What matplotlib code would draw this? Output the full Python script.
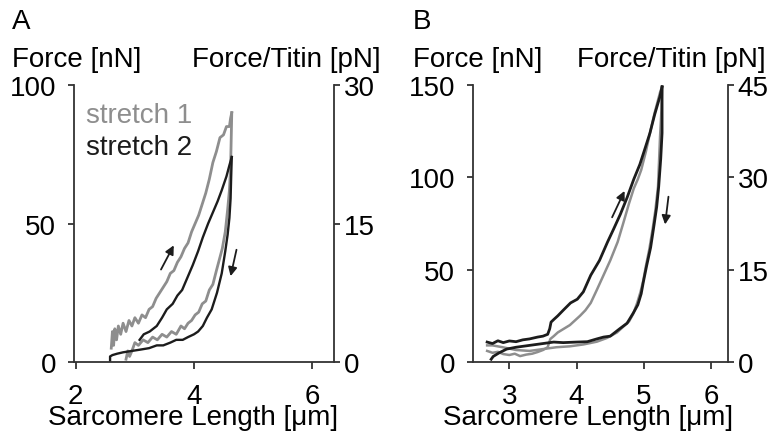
"""
Force vs sarcomere length for two consecutive stretches (panels A and B).
"""

import matplotlib.pyplot as plt

# ============================== data =========================================

GRAY = "#8e8e8e"
BLACK = "#1c1c1c"

# panel A, stretch 1 (gray) - loading / unloading
a1_load_x = [2.60, 2.62, 2.64, 2.66, 2.69, 2.72, 2.76, 2.80, 2.85, 2.90, 2.95, 3.00,
             3.06, 3.12, 3.18, 3.24, 3.30, 3.36, 3.42, 3.48, 3.54, 3.60, 3.66, 3.72,
             3.78, 3.84, 3.90, 3.96, 4.02, 4.08, 4.14, 4.20, 4.26, 4.32, 4.38, 4.44,
             4.50, 4.55, 4.60, 4.62, 4.64]
a1_load_y = [5, 11, 6, 12, 8, 13, 10, 14, 11, 15, 13, 16,
             14, 17, 16, 19, 20, 23, 25, 27, 29, 32, 33, 36,
             38, 41, 43, 47, 50, 53, 57, 61, 66, 72, 76, 81,
             82, 85, 85, 88, 90]
a1_unload_x = [4.64, 4.63, 4.62, 4.60, 4.57, 4.53, 4.48, 4.43, 4.38, 4.32, 4.26, 4.20,
               4.14, 4.08, 4.02, 3.96, 3.90, 3.84, 3.78, 3.70, 3.62, 3.54, 3.46, 3.38,
               3.30, 3.22, 3.14, 3.06, 3.00, 2.95, 2.91, 2.88, 2.85]
a1_unload_y = [90, 80, 70, 62, 55, 47, 41, 37, 33, 28, 26, 22,
               21, 18, 17, 15, 14, 12, 13, 10, 11, 9, 10, 8,
               9, 7, 8, 6, 7, 4, 2, 4, 1]

# panel A, stretch 2 (black)
a2_load_x = [3.08, 3.15, 3.25, 3.37, 3.46, 3.54, 3.64, 3.72, 3.80, 3.90, 3.98,
             4.07, 4.15, 4.24, 4.32, 4.40, 4.47, 4.55, 4.60, 4.64]
a2_load_y = [8, 10, 11, 13, 16, 19, 21, 24, 26, 31, 35,
             40, 45, 50, 54, 58, 62, 67, 71, 74]
a2_unload_x = [4.64, 4.63, 4.62, 4.60, 4.57, 4.53, 4.47, 4.39, 4.30, 4.22, 4.15,
               4.07, 4.00, 3.90, 3.81, 3.70, 3.60, 3.48, 3.37, 3.24, 3.10, 2.95,
               2.80, 2.70, 2.62, 2.58, 2.58]
a2_unload_y = [74, 67, 59, 52, 46, 40, 32, 25, 19, 16, 13,
               11, 10, 9, 8, 8, 7, 6, 6, 5, 4.5, 4,
               3.5, 3, 2.5, 2, 0.5]

# panel B, stretch 1 (gray)
b1_load_x = [2.67, 2.75, 2.83, 2.91, 3.00, 3.08, 3.16, 3.25, 3.34, 3.42, 3.50,
             3.57, 3.61, 3.66, 3.72, 3.81, 3.90, 3.96, 4.05, 4.13, 4.21, 4.30,
             4.40, 4.50, 4.61, 4.70, 4.78, 4.85, 4.91, 4.96, 5.03, 5.09, 5.16,
             5.24, 5.27]
b1_load_y = [6, 5, 5.5, 4.3, 3.8, 4.5, 3.2, 4, 4.5, 5.4, 6.5,
             8, 12.5, 14, 16, 18, 20, 22, 25, 28, 32, 39,
             47, 55, 65, 76, 86, 94, 99, 104, 114, 124, 135,
             146, 149]
b1_unload_x = [5.27, 5.26, 5.24, 5.21, 5.17, 5.13, 5.08, 5.03, 4.99, 4.95, 4.90,
               4.84, 4.78, 4.72, 4.60, 4.45, 4.30, 4.10, 3.90, 3.70, 3.50, 3.30,
               3.10, 2.90, 2.75, 2.67]
b1_unload_y = [149, 136, 122, 95, 82, 72, 61, 52, 44, 38, 32,
               26, 22, 20, 16, 13, 11, 9.5, 8.5, 8, 7, 6,
               6.5, 8, 9, 9]

# panel B, stretch 2 (black)
b2_load_x = [2.67, 2.75, 2.83, 2.91, 3.00, 3.10, 3.20, 3.30, 3.42, 3.50, 3.57,
             3.60, 3.62, 3.66, 3.72, 3.80, 3.91, 4.01, 4.10, 4.21, 4.34, 4.46,
             4.55, 4.65, 4.75, 4.85, 4.94, 5.02, 5.09, 5.16, 5.24, 5.27]
b2_load_y = [10.8, 10, 11.5, 10.5, 11.4, 11, 12, 12.5, 13.5, 14, 15,
             18, 21.6, 23, 25, 28, 32, 34, 38, 47, 55, 65,
             72, 80, 89, 99, 107, 116, 124, 134, 144, 149]
b2_unload_x = [5.27, 5.27, 5.25, 5.22, 5.19, 5.15, 5.10, 5.04, 4.99, 4.96, 4.91,
               4.85, 4.75, 4.64, 4.50, 4.40, 4.30, 4.16, 4.00, 3.80, 3.66, 3.50,
               3.30, 3.10, 2.96, 2.85, 2.76, 2.73]
b2_unload_y = [149, 124, 110, 95, 84, 74, 62, 52, 43, 37, 31,
               27, 21, 18, 14, 13.5, 12.5, 11, 10.8, 10.5, 10.8, 10,
               9, 8, 7, 5, 3, 1.5]

# ============================== main =========================================

plt.rcParams["font.family"] = ["Liberation Sans", "DejaVu Sans"]
plt.rcParams["font.size"] = 20


def style_axes(ax, ax2, xlim, ylim, xticks, yticks, y2lim, y2ticks):
    ax.set_xlim(xlim)
    ax.set_ylim(ylim)
    ax.set_xticks(xticks)
    ax.set_yticks(yticks)
    ax2.set_ylim(y2lim)
    ax2.set_yticks(y2ticks)
    for a in (ax, ax2):
        a.spines["top"].set_visible(False)
        for s in a.spines.values():
            s.set_linewidth(1.3)
            s.set_color("#333333")
    ax.spines["right"].set_visible(False)
    ax2.spines["left"].set_visible(False)
    ax2.spines["bottom"].set_visible(False)
    ax.tick_params(axis="x", length=5, width=1.3, pad=10, color="#333333")
    ax.tick_params(axis="y", length=4, width=1.3, pad=9, color="#333333")
    ax2.tick_params(axis="y", length=4, width=1.3, pad=3, color="#333333")
    ax.patch.set_alpha(0)


fig = plt.figure(figsize=(7.72, 4.35), dpi=100)

# panel A
axA = fig.add_axes([0.0959, 0.1655, 0.3367, 0.6368])
axA2 = axA.twinx()
axA2.set_zorder(axA.get_zorder() - 1)
axA.plot(a1_load_x, a1_load_y, color=GRAY, lw=2.0)
axA.plot(a1_unload_x, a1_unload_y, color=GRAY, lw=2.0)
axA.plot(a2_load_x, a2_load_y, color=BLACK, lw=1.7)
axA.plot(a2_unload_x, a2_unload_y, color=BLACK, lw=1.7)
style_axes(axA, axA2, (1.97, 6.37), (0, 100), [2, 4, 6], [0, 50, 100],
           (0, 30), [0, 15, 30])
axA.annotate("", xy=(3.68, 43), xytext=(3.42, 32.5),
             arrowprops=dict(arrowstyle="-|>", color=BLACK, lw=1.3, mutation_scale=13))
axA.annotate("", xy=(4.61, 30), xytext=(4.73, 41.5),
             arrowprops=dict(arrowstyle="-|>", color=BLACK, lw=1.3, mutation_scale=13))
axA.text(2.17, 89, "stretch 1", color=GRAY, va="center", ha="left")
axA.text(2.17, 77.5, "stretch 2", color=BLACK, va="center", ha="left")
axA.set_xlabel("Sarcomere Length [μm]")
axA.xaxis.set_label_coords(0.456, -0.152)

# panel B
axB = fig.add_axes([0.6127, 0.1655, 0.3303, 0.6368])
axB2 = axB.twinx()
axB2.set_zorder(axB.get_zorder() - 1)
axB.plot(b1_load_x, b1_load_y, color=GRAY, lw=1.8)
axB.plot(b1_unload_x, b1_unload_y, color=GRAY, lw=1.8)
axB.plot(b2_load_x, b2_load_y, color=BLACK, lw=2.0)
axB.plot(b2_unload_x, b2_unload_y, color=BLACK, lw=2.0)
style_axes(axB, axB2, (2.46, 6.25), (0, 150), [3, 4, 5, 6], [0, 50, 100, 150],
           (0, 45), [0, 15, 30, 45])
axB.annotate("", xy=(4.73, 94), xytext=(4.51, 77),
             arrowprops=dict(arrowstyle="-|>", color=BLACK, lw=1.3, mutation_scale=13))
axB.annotate("", xy=(5.31, 73), xytext=(5.37, 91),
             arrowprops=dict(arrowstyle="-|>", color=BLACK, lw=1.3, mutation_scale=13))
axB.set_xlabel("Sarcomere Length [μm]")
axB.xaxis.set_label_coords(0.451, -0.152)

# panel letters and axis titles
fig.text(12 / 772, 1 - 22 / 435, "A", ha="left", va="center")
fig.text(413 / 772, 1 - 22 / 435, "B", ha="left", va="center")
fig.text(12 / 772, 1 - 60 / 435, "Force [nN]", ha="left", va="center")
fig.text(381 / 772, 1 - 60 / 435, "Force/Titin [pN]", ha="right", va="center")
fig.text(413 / 772, 1 - 60 / 435, "Force [nN]", ha="left", va="center")
fig.text(766 / 772, 1 - 60 / 435, "Force/Titin [pN]", ha="right", va="center")

plt.savefig("out.png", dpi=100)
